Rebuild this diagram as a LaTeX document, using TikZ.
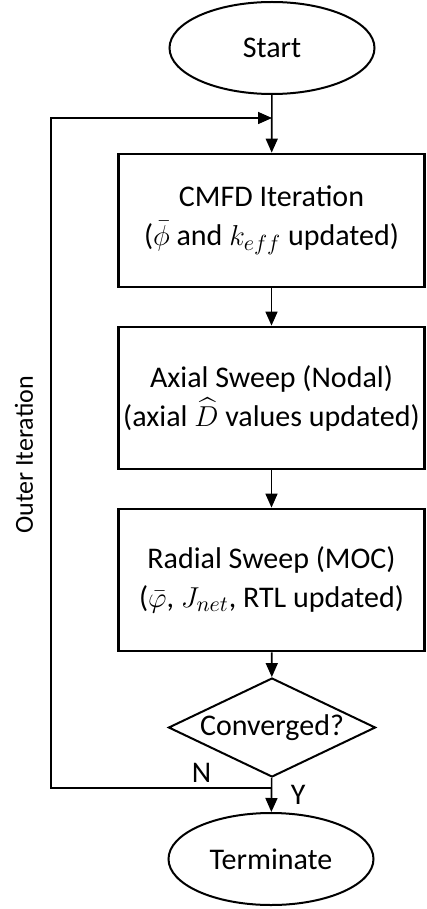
\documentclass[tikz,border=0pt]{standalone}
\usepackage{amsmath}
\usepackage{amssymb}
\usepackage{fontspec}
\setmainfont{Carlito}
\usetikzlibrary{shapes.geometric,arrows.meta}

\tikzset{
  term/.style={draw,ellipse,line width=1pt,minimum width=102.5pt,minimum height=46pt,inner sep=0pt},
  stepbox/.style={draw,rectangle,line width=1.4pt,minimum width=153pt,align=center,inner sep=0pt},
  decide/.style={draw,diamond,line width=1pt,minimum width=103.5pt,minimum height=49.5pt,aspect=2.1,inner sep=0pt},
  flow/.style={line width=0.8pt,-{Triangle[length=7pt,width=6pt]}},
}

\begin{document}
\begin{tikzpicture}[x=0.5pt,y=-0.5pt,font=\fontsize{15}{19.5}\selectfont]
      \useasboundingbox (0,0) rectangle (427,909);

      \node[term] (start) at (272,48) {Start};
      \node[stepbox,minimum height=66.5pt] (cmfd) at (271.5,220.5)
        {CMFD Iteration\\($\bar{\phi}$ and $k_{eff}$ updated)};
      \node[stepbox,minimum height=71pt] (axial) at (271.5,398)
        {Axial Sweep (Nodal)\\(axial $\widehat{D}$ values updated)};
      \node[stepbox,minimum height=71pt] (radial) at (271.5,580)
        {Radial Sweep (MOC)\\($\bar{\varphi}$, $J_{net}$, RTL updated)};
      \node[decide] (conv) at (272,727.5) {Converged?};
      \node[term] (stop) at (271,859) {Terminate};
      \node[rotate=90,font=\fontsize{13}{16}\selectfont] (outer) at (24,455) {Outer Iteration};

      \coordinate (back) at (272,118);
      \coordinate (split) at (272,788);
      \coordinate (loop) at (51,788);

      \draw[flow] (start) -- (cmfd);
      \draw[flow] (cmfd) -- (axial);
      \draw[flow] (axial) -- (radial);
      \draw[flow] (radial) -- (conv);
      \draw[flow] (conv) -- node[right,xshift=6pt] {Y} (stop);
      \draw[flow] (split) -- node[above,xshift=20pt,yshift=-1pt] {N} (loop) |- (back);
    \end{tikzpicture}
\end{document}
